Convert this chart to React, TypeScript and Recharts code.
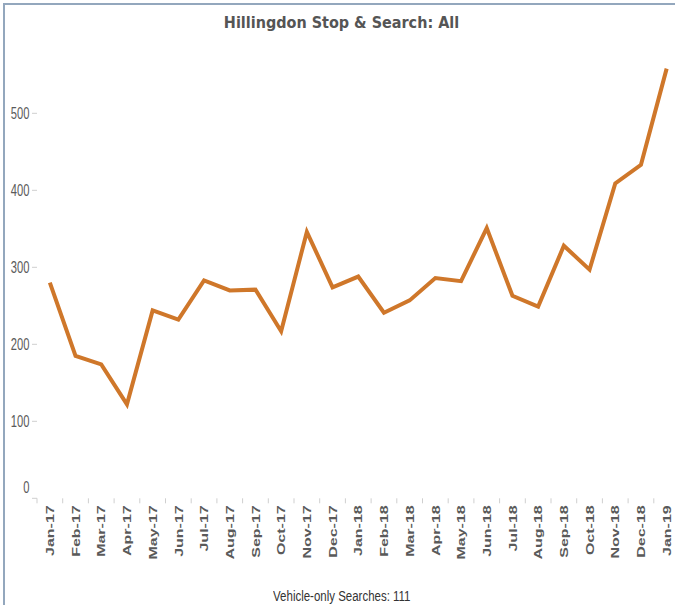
import React from 'react';
import { LineChart, Line, XAxis, YAxis } from 'recharts';

const months = [
  'Jan-17', 'Feb-17', 'Mar-17', 'Apr-17', 'May-17', 'Jun-17', 'Jul-17', 'Aug-17', 'Sep-17', 'Oct-17', 'Nov-17', 'Dec-17',
  'Jan-18', 'Feb-18', 'Mar-18', 'Apr-18', 'May-18', 'Jun-18', 'Jul-18', 'Aug-18', 'Sep-18', 'Oct-18', 'Nov-18', 'Dec-18',
  'Jan-19',
];
const searches = [
  280, 185, 174, 122, 244, 232, 283, 270, 271, 217, 346, 274,
  288, 241, 257, 286, 282, 351, 263, 249, 328, 297, 409, 433,
  558,
];
const yTicks = [0, 100, 200, 300, 400, 500];
const title = 'Hillingdon Stop & Search: All';
const footnote = 'Vehicle-only Searches: 111';

const data = months.map((m, i) => ({ month: m, value: searches[i] }));

const CHART_W = 700;
const CHART_H = 605;
const PLOT_LEFT = 37;
const PLOT_RIGHT = 679.5;
const PLOT_TOP = 36.3;
const PLOT_BOTTOM = 498.3;
const X_AXIS_H = 60;
const STEP = (PLOT_RIGHT - PLOT_LEFT) / months.length;
const SANS = '"Liberation Sans", Arial, sans-serif';

const XTick = (props: any) => {
  const { x, payload, index } = props;
  const isLast = index === months.length - 1;
  return (
    <g>
      <line x1={x - STEP / 2} x2={x - STEP / 2} y1={PLOT_BOTTOM} y2={PLOT_BOTTOM + 5} stroke="#cfcfcf" strokeWidth={1} />
      {isLast && (
        <line x1={x + STEP / 2} x2={x + STEP / 2} y1={PLOT_BOTTOM} y2={PLOT_BOTTOM + 5} stroke="#cfcfcf" strokeWidth={1} />
      )}
      <text
        transform={`translate(${x}, ${PLOT_BOTTOM + 7}) rotate(-90) scale(1, 0.74)`}
        textAnchor="end"
        dy="0.35em"
        fontFamily={SANS}
        fontSize={16}
        fontWeight="bold"
        fill="#5a5a5a"
      >
        {payload.value}
      </text>
    </g>
  );
};

const YTick = (props: any) => {
  const { y, payload } = props;
  const ty = payload.value === 0 ? y - 11 : y;
  return (
    <g>
      <line x1={32} x2={PLOT_LEFT} y1={y} y2={y} stroke="#cfcfcf" strokeWidth={1} />
      <text
        transform={`translate(29.5, ${ty}) scale(0.7, 1)`}
        dy="0.35em"
        textAnchor="end"
        fontFamily={SANS}
        fontSize={16}
        fill="#5a5a5a"
      >
        {payload.value}
      </text>
    </g>
  );
};

export default function App() {
  return (
    <div
      style={{
        position: 'absolute',
        left: 0,
        top: 0,
        width: 675,
        height: 605,
        overflow: 'hidden',
        background: '#ffffff',
      }}
    >
      <div
        style={{
          position: 'absolute',
          left: 3,
          top: 3,
          width: 700,
          height: 700,
          borderLeft: '2px solid #93a7bd',
          borderTop: '2px solid #93a7bd',
        }}
      />
      <div
        style={{
          position: 'absolute',
          left: 0,
          top: 13,
          width: 683,
          textAlign: 'center',
          fontFamily: '"DejaVu Sans Condensed", "DejaVu Sans", sans-serif',
          fontSize: 16,
          fontWeight: 'bold',
          color: '#555555',
        }}
      >
        {title}
      </div>
      <div style={{ position: 'absolute', left: 0, top: 0 }}>
        <LineChart
          width={CHART_W}
          height={CHART_H}
          data={data}
          margin={{ top: PLOT_TOP, right: CHART_W - PLOT_RIGHT, bottom: CHART_H - PLOT_BOTTOM - X_AXIS_H, left: 0 }}
        >
          <XAxis
            dataKey="month"
            interval={0}
            height={X_AXIS_H}
            padding={{ left: STEP / 2, right: STEP / 2 }}
            axisLine={false}
            tickLine={false}
            tick={<XTick />}
          />
          <YAxis
            width={PLOT_LEFT}
            domain={[0, 600]}
            ticks={yTicks}
            axisLine={false}
            tickLine={false}
            tick={<YTick />}
          />
          <Line
            type="linear"
            dataKey="value"
            stroke="#cf772a"
            strokeWidth={4}
            dot={false}
            isAnimationActive={false}
          />
        </LineChart>
      </div>
      <div
        style={{
          position: 'absolute',
          left: 0,
          top: 587,
          width: 683,
          textAlign: 'center',
        }}
      >
        <span
          style={{
            display: 'inline-block',
            transform: 'scaleX(0.82)',
            fontFamily: SANS,
            fontSize: 14,
            color: '#333333',
          }}
        >
          {footnote}
        </span>
      </div>
    </div>
  );
}
